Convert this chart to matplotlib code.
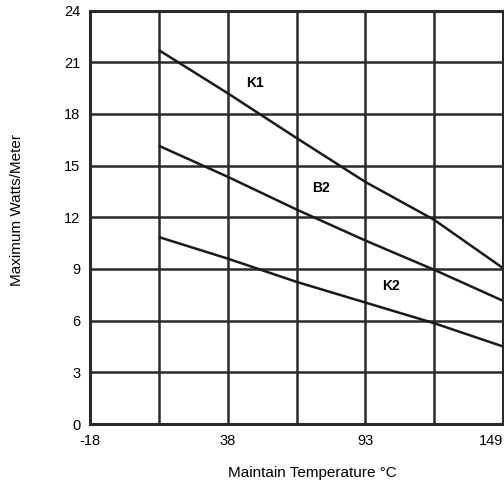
import matplotlib
matplotlib.use("Agg")
from matplotlib import pyplot as plt

plt.rcParams['font.family'] = ['Liberation Sans', 'DejaVu Sans']

# grid columns (index positions) and the temperatures printed under them
grid_pos = [0, 1, 2, 3, 4, 5, 6]
tick_labels = ['-18', '', '38', '', '93', '', '149']
y_ticks = [0, 3, 6, 9, 12, 15, 18, 21, 24]

# curve values read at each grid column (columns 1..6)
x_cols = [1, 2, 3, 4, 5, 6]
k1 = [21.7, 19.2, 16.6, 14.05, 11.85, 9.05]
b2 = [16.15, 14.35, 12.45, 10.65, 8.95, 7.15]
k2 = [10.85, 9.6, 8.25, 7.05, 5.85, 4.5]

curve_labels = [('K1', 2.4, 19.8), ('B2', 3.36, 13.7), ('K2', 4.37, 8.0)]

fig = plt.figure(figsize=(5.04, 4.87), dpi=100)
ax = fig.add_axes([90 / 504, 1 - 424 / 487, 413 / 504, 413.5 / 487])

for vals in (k1, b2, k2):
    ax.plot(x_cols, vals, color='#1a1a1a', lw=1.8, solid_capstyle='butt')

for name, xx, yy in curve_labels:
    ax.text(xx, yy, name, fontsize=10, fontweight='bold', ha='center', va='center')

ax.set_xlim(0, 6)
ax.set_ylim(0, 24)
ax.set_xticks(grid_pos)
ax.set_xticklabels(tick_labels)
ax.get_xticklabels()[-1].set_ha('right')
ax.set_yticks(y_ticks)
ax.grid(True, color='#2a2a2a', lw=1.8)
ax.tick_params(length=0, labelsize=10.5, pad=7)
for s in ax.spines.values():
    s.set_color('#2a2a2a')
    s.set_linewidth(2.2)

fig.text(312 / 504, 1 - 473 / 487, 'Maintain Temperature \u00b0C', fontsize=11,
         ha='center', va='center')
fig.text(17 / 504, 1 - 210 / 487, 'Maximum Watts/Meter', fontsize=11,
         ha='center', va='center', rotation=90)

fig.savefig('out.png', dpi=100, facecolor='white')
